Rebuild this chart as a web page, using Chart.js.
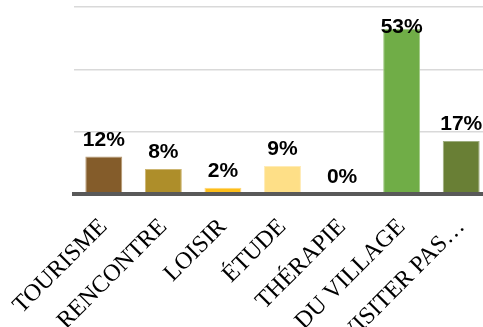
<!DOCTYPE html>
<html>
<head>
<meta charset="utf-8">
<script src="https://cdn.jsdelivr.net/npm/chart.js@4"></script>
<style>
html,body{margin:0;padding:0;overflow:hidden;background:#fff;}
#wrap{width:491px;height:327px;}
</style>
</head>
<body>
<div id="wrap"><canvas id="c" width="491" height="327"></canvas></div>
<script>
const categories = ["TOURISME", "RENCONTRE", "LOISIR", "ÉTUDE", "THÉRAPIE", "DU VILLAGE", "VISITER PAS…"];
const values = [12, 8, 2, 9, 0, 53, 17];
const valueLabels = ["12%", "8%", "2%", "9%", "0%", "53%", "17%"];
const barColors = ["#845C2A", "#AE8E2A", "#FDBE1A", "#FEDF87", "#A0A0A0", "#70AD47", "#697F35"];
const barBorders = ["#B99A72", "#CDB672", "#FED57A", "#FFEBB5", "#C0C0C0", "#A2CB86", "#9DAD7E"];
const yTicks = [0, 20, 40, 60];

const labelPlugin = {
  id: 'valueLabels',
  afterDatasetsDraw(chart) {
    const ctx = chart.ctx;
    const meta = chart.getDatasetMeta(0);
    ctx.save();
    ctx.font = 'bold 21px "Liberation Sans", Arial, sans-serif';
    ctx.fillStyle = '#000';
    ctx.textAlign = 'center';
    ctx.textBaseline = 'alphabetic';
    meta.data.forEach((bar, i) => {
      let y = bar.y - 11;
      const minY = chart.chartArea.top + 26;
      if (y < minY) y = minY;
      ctx.fillText(valueLabels[i], bar.x, y);
    });
    ctx.restore();
  }
};

new Chart(document.getElementById('c'), {
  type: 'bar',
  data: {
    labels: categories,
    datasets: [{
      data: values,
      backgroundColor: barColors,
      borderColor: barBorders,
      borderWidth: 1,
      categoryPercentage: 0.62,
      barPercentage: 1.0
    }]
  },
  options: {
    responsive: false,
    animation: false,
    devicePixelRatio: 1,
    layout: { padding: { top: 7, left: 0, right: 0, bottom: 0 } },
    plugins: { legend: { display: false }, tooltip: { enabled: false } },
    scales: {
      x: {
        grid: { display: false, drawTicks: false },
        border: { display: true, color: '#595959', width: 4, z: 1 },
        ticks: {
          minRotation: 45, maxRotation: 45,
          color: '#000',
          padding: 19,
          font: { family: '"Liberation Serif", "Times New Roman", serif', size: 24 }
        },
        afterFit(scale) {
          scale.height = 133;
          scale.paddingLeft = 0;
          scale.paddingRight = 0;
        }
      },
      y: {
        min: 0, max: 60,
        afterBuildTicks(scale) { scale.ticks = yTicks.map(v => ({ value: v })); },
        ticks: { display: false },
        grid: {
          color: (c) => c.tick && c.tick.value === 0 ? 'rgba(0,0,0,0)' : '#D9D9D9',
          lineWidth: 1.5,
          drawTicks: false
        },
        border: { display: false },
        afterFit(scale) { scale.width = 74; }
      }
    }
  },
  plugins: [labelPlugin]
});
</script>
</body>
</html>
